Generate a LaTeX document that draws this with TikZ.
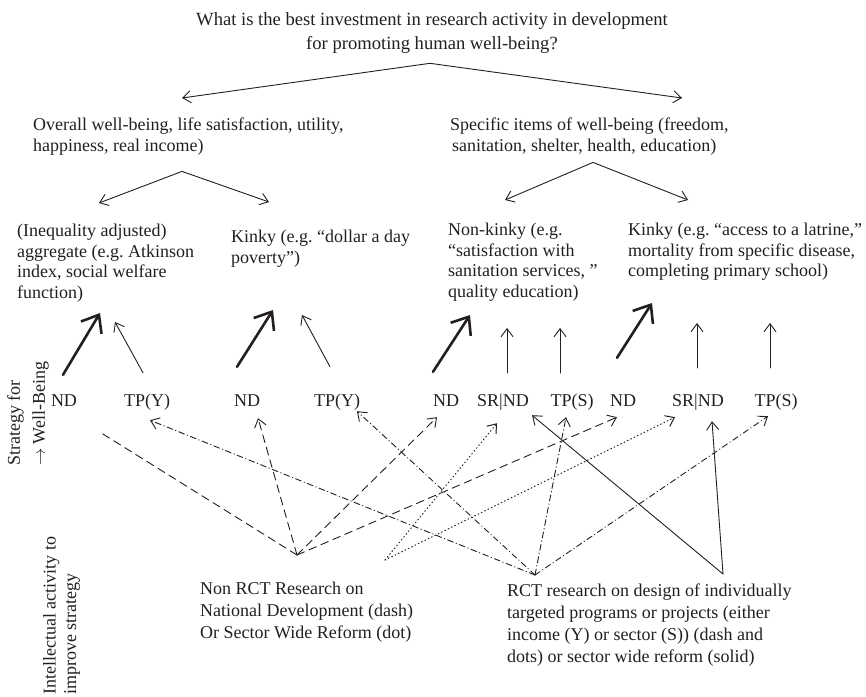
\documentclass[tikz,border=0pt]{standalone}
\usepackage{fontspec}
\setmainfont{Liberation Serif}
\usetikzlibrary{arrows.meta}
\definecolor{ink}{HTML}{231F20}
\frenchspacing

\begin{document}
\begin{tikzpicture}[line cap=round,line join=round,x=1pt,y=-1pt,
  >={Straight Barb[length=8pt,width=12pt]},
  every node/.style={text=ink,inner sep=0pt},
  txt/.style={align=left,anchor=north west,font=\fontsize{18}{20.5}\selectfont},
  lowtxt/.style={txt,font=\fontsize{18}{22}\selectfont},
  rowlab/.style={anchor=base,font=\fontsize{18}{20.5}\selectfont,text height=13pt,text depth=5pt,inner ysep=6pt},
  fork/.style={draw=ink,line width=0.9pt,<->},
  upthin/.style={draw=ink,line width=0.9pt,->},
  upthick/.style={draw=ink,line width=2.6pt,-{Straight Barb[length=15pt,width=24pt]}},
  ndline/.style={draw=ink,line width=0.9pt,dash pattern=on 8pt off 5pt},
  srline/.style={draw=ink,line width=1pt,dash pattern=on 0.9pt off 2.8pt},
  tpline/.style={draw=ink,line width=0.9pt,dash pattern=on 6pt off 3pt on 0.6pt off 3pt},
  rctline/.style={draw=ink,line width=0.9pt}]
\useasboundingbox (0,0) rectangle (866,696);

\node[txt,anchor=north,align=center,font=\fontsize{18.6}{24}\selectfont] (title) at (432,12)
  {What is the best investment in research activity in development\\for promoting human well-being?};
\node[txt] (overall) at (33,118) {Overall well-being, life satisfaction, utility,\\happiness, real income)};
\node[txt] (specific) at (450,118) {Specific items of well-being (freedom,\\\hspace*{2pt}sanitation, shelter, health, education)};

\node[txt] (ineq) at (17,224) {(Inequality adjusted)\\aggregate (e.g. Atkinson\\index, social welfare\\function)};
\node[txt] (kinkyy) at (231,230) {Kinky (e.g. “dollar a day\\poverty”)};
\node[txt] (nonkinky) at (448,223) {Non-kinky (e.g.\\“satisfaction with\\sanitation services, ”\\quality education)};
\node[txt] (kinkys) at (628,223) {Kinky (e.g. “access to a latrine,”\\mortality from specific disease,\\completing primary school)};

\foreach \nm/\x/\lab in {nda/64/ND, tpya/147/TP(Y), ndb/247/ND, tpyb/337/TP(Y), ndc/446/ND,
    srnda/503/SR|ND, tpsa/572/TP(S), ndd/623/ND, srndb/698/SR|ND, tpsb/776/TP(S)}
  \node[rowlab] (\nm) at (\x,406) {\lab};

\node[txt,rotate=90,font=\fontsize{18}{25}\selectfont] (strat) at (7,466) {Strategy for\\$\rightarrow$ Well-Being};
\node[txt,rotate=90] (intel) at (43,695) {Intellectual activity to\\improve strategy};

\node[lowtxt] (nonrct) at (200,582) {Non RCT Research on\\National Development (dash)\\Or Sector Wide Reform (dot)};
\node[lowtxt] (rct) at (507,584) {RCT research on design of individually\\targeted programs or projects (either\\income (Y) or sector (S)) (dash and\\dots) or sector wide reform (solid)};

\coordinate (ndhub) at (297,555);
\coordinate (dothub) at (385,560);
\coordinate (tphub) at (535,575);
\coordinate (srhub) at (723,574);

% splitting the question
\draw[fork] ([xshift=149pt,yshift=20pt]overall.north west) -- ([xshift=-2pt,yshift=-10pt]title.south)
  -- ([xshift=232pt,yshift=20pt]specific.north west);
\draw[fork] ([xshift=82pt,yshift=21pt]ineq.north west) -- ([xshift=149pt,yshift=-16pt]overall.south west)
  -- ([xshift=38pt,yshift=28pt]kinkyy.north west);
\draw[fork] ([xshift=57pt,yshift=23pt]nonkinky.north west) -- ([xshift=143pt,yshift=-7pt]specific.south west)
  -- ([xshift=60pt,yshift=23pt]kinkys.north west);

% strategies up to the measures
\draw[upthick] ([xshift=-1pt,yshift=12pt]nda.north) -- ([xshift=83pt,yshift=-89pt]ineq.north west);
\draw[upthin] ([xshift=-4pt,yshift=14pt]tpya.north) -- ([xshift=98pt,yshift=-98pt]ineq.north west);
\draw[upthick] ([xshift=-10pt,yshift=20pt]ndb.north) -- ([xshift=42pt,yshift=-80pt]kinkyy.north west);
\draw[upthin] ([xshift=-7pt,yshift=20pt]tpyb.north) -- ([xshift=71pt,yshift=-85pt]kinkyy.north west);
\draw[upthick] ([xshift=-13pt,yshift=15pt]ndc.north) -- ([xshift=22pt,yshift=-92pt]nonkinky.north west);
\draw[upthin] ([xshift=4pt,yshift=14pt]srnda.north) -- ([xshift=59pt,yshift=-105pt]nonkinky.north west);
\draw[upthin] ([xshift=-12pt,yshift=14pt]tpsa.north) -- ([xshift=112pt,yshift=-105pt]nonkinky.north west);
\draw[upthick] ([xshift=-6pt,yshift=29pt]ndd.north) -- ([xshift=24pt,yshift=-80pt]kinkys.north west);
\draw[upthin] ([xshift=-1pt,yshift=19pt]srndb.north) -- ([xshift=69pt,yshift=-100pt]kinkys.north west);
\draw[upthin] ([xshift=-6pt,yshift=19pt]tpsb.north) -- ([xshift=142pt,yshift=-100pt]kinkys.north west);

% research feeding the strategies
\draw[ndline] (ndhub) -- ([xshift=36pt,yshift=-15pt]nda.south);
\draw[ndline,->] (ndhub) -- ([xshift=11pt,yshift=-1pt]ndb.south);
\draw[ndline,->] (ndhub) -- ([xshift=-9pt]ndc.south);
\draw[ndline,->] (ndhub) -- ([xshift=-6pt]ndd.south);
\draw[srline,->] (dothub) -- ([xshift=-6pt,yshift=-6pt]srnda.south);
\draw[srline,->] (dothub) -- ([xshift=-23pt]srndb.south);
\draw[tpline,->] (tphub) -- ([xshift=3pt,yshift=-3pt]tpya.south);
\draw[tpline,->] (tphub) -- ([xshift=20pt,yshift=6pt]tpyb.south);
\draw[tpline,->] (tphub) -- ([xshift=-6pt]tpsa.south);
\draw[tpline,->] (tphub) -- ([xshift=-8pt,yshift=1pt]tpsb.south);
\draw[rctline,->] (srhub) -- ([xshift=29pt,yshift=2pt]srnda.south);
\draw[rctline,->] (srhub) -- ([xshift=14pt,yshift=-4pt]srndb.south);
\end{tikzpicture}
\end{document}
